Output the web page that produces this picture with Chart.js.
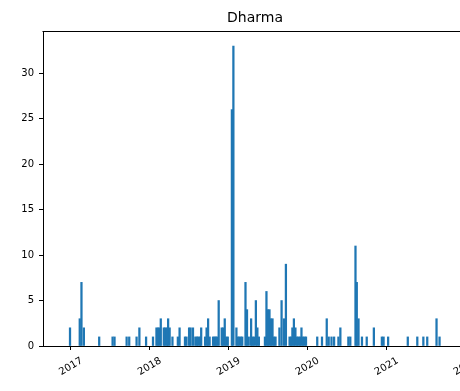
<!DOCTYPE html>
<html><head><meta charset="utf-8">
<script src="https://cdn.jsdelivr.net/npm/chart.js@4/dist/chart.umd.min.js"></script>
<style>html,body{margin:0;padding:0;background:#fff;overflow:hidden;width:460px;height:391px}canvas{display:block}</style>
</head><body>
<canvas id="c" width="480" height="391"></canvas>
<script>
const dates = ['2016-12-28','2017-02-11','2017-02-19','2017-03-02','2017-05-12','2017-07-13','2017-07-22','2017-09-16','2017-09-28','2017-11-01','2017-11-14','2017-12-15',
'2018-01-16','2018-02-01','2018-02-08','2018-02-15','2018-02-21','2018-03-07','2018-03-14','2018-03-21','2018-03-27','2018-04-03','2018-04-16','2018-05-11','2018-05-19','2018-06-13','2018-06-20','2018-07-02','2018-07-09','2018-07-20','2018-07-31','2018-08-07','2018-08-14','2018-08-21','2018-08-27','2018-09-14','2018-09-21','2018-09-28','2018-10-05','2018-10-21','2018-10-28','2018-11-02','2018-11-09','2018-11-16','2018-11-30','2018-12-07','2018-12-14','2018-12-21','2018-12-28',
'2019-01-16','2019-01-23','2019-02-06','2019-02-12','2019-02-19','2019-02-26','2019-03-05','2019-03-20','2019-03-27','2019-04-04','2019-04-15','2019-04-21','2019-04-28','2019-05-07','2019-05-14','2019-05-21','2019-06-18','2019-06-25','2019-07-02','2019-07-09','2019-07-16','2019-07-23','2019-07-30','2019-08-06','2019-08-24','2019-09-03','2019-09-14','2019-09-23','2019-10-10','2019-10-17','2019-10-23','2019-10-30','2019-11-06','2019-11-13','2019-11-20','2019-11-27','2019-12-04','2019-12-11','2019-12-18','2019-12-25',
'2020-02-15','2020-03-08','2020-03-30','2020-04-08','2020-04-21','2020-05-03','2020-05-23','2020-06-01','2020-07-08','2020-07-17','2020-08-10','2020-08-16','2020-08-24','2020-09-09','2020-10-01','2020-11-03','2020-12-10','2020-12-18',
'2021-01-08','2021-04-09','2021-05-23','2021-06-20','2021-07-08','2021-08-20','2021-09-03'];
const counts = [2,3,7,2,1,1,1,1,1,1,2,1,
1,2,2,2,3,2,2,2,3,2,1,1,2,1,1,2,2,2,1,1,1,1,2,1,2,3,1,1,1,1,1,5,2,2,3,1,1,
26,33,2,1,1,1,1,7,4,1,3,1,1,5,2,1,1,6,4,4,3,3,1,1,2,5,3,9,1,1,2,3,2,1,1,1,2,1,1,1,
1,1,3,1,1,1,1,2,1,1,11,7,3,1,1,2,1,1,
1,1,1,1,1,3,1];
const yearLabels = ['2017','2018','2019','2020','2021','2022'];
const yTicks = [0,5,10,15,20,25,30];
const title = 'Dharma';

const DAY = 86400000;
const BASE = Date.UTC(2017,0,1);
const toDay = s => (Date.parse(s + 'T00:00:00Z') - BASE) / DAY;
const points = dates.map((d,i) => ({x: toDay(d), y: counts[i]}));
const yearDays = yearLabels.map(y => toDay(y + '-01-01'));

const frame = {
  id: 'frame',
  afterDraw(chart) {
    const {ctx, chartArea: a} = chart;
    ctx.save();
    ctx.strokeStyle = '#000';
    ctx.lineWidth = 1;
    ctx.beginPath();
    ctx.moveTo(Math.round(a.left) - 0.5, Math.round(a.top) + 0.5);
    ctx.lineTo(Math.round(a.right) + 0.5, Math.round(a.top) + 0.5);
    ctx.lineTo(Math.round(a.right) + 0.5, Math.round(a.bottom));
    ctx.stroke();
    ctx.restore();
  }
};

new Chart(document.getElementById('c'), {
  type: 'bar',
  data: {
    datasets: [{
      data: points,
      backgroundColor: '#1f77b4',
      borderWidth: 0,
      barThickness: 1.6
    }]
  },
  options: {
    responsive: false,
    animation: false,
    events: [],
    layout: {padding: {left: 0, right: 13, top: 0, bottom: 0}},
    plugins: {
      legend: {display: false},
      tooltip: {enabled: false},
      title: {
        display: true,
        text: title,
        fullSize: false,
        color: '#000',
        font: {family: 'DejaVu Sans', size: 14, weight: 'normal', lineHeight: 1.2},
        padding: {top: 9.6, bottom: 4.6}
      }
    },
    scales: {
      x: {
        type: 'linear',
        offset: false,
        min: toDay('2016-08-25'),
        max: toDay('2022-01-08'),
        afterBuildTicks(s) { s.ticks = yearDays.map(v => ({value: v})); },
        afterFit(s) { s.height = 45; },
        grid: {display: true, drawOnChartArea: false, drawTicks: true, tickLength: 4, tickColor: '#000', tickWidth: 1, offset: false},
        border: {display: true, color: '#000', width: 1},
        ticks: {
          autoSkip: false,
          minRotation: 30, maxRotation: 30,
          padding: 5,
          labelOffset: 11,
          color: '#000',
          font: {family: 'DejaVu Sans', size: 10},
          callback: (v, i) => yearLabels[i]
        }
      },
      y: {
        min: 0,
        max: 34.65,
        afterBuildTicks(s) { s.ticks = yTicks.map(v => ({value: v})); },
        afterFit(s) { s.width = 43; },
        grid: {display: true, drawOnChartArea: false, drawTicks: true, tickLength: 4, tickColor: '#000', tickWidth: 1},
        border: {display: true, color: '#000', width: 1},
        ticks: {
          padding: 5,
          color: '#000',
          font: {family: 'DejaVu Sans', size: 10},
          callback: (v) => String(v)
        }
      }
    }
  },
  plugins: [frame]
});
</script>
</body></html>
